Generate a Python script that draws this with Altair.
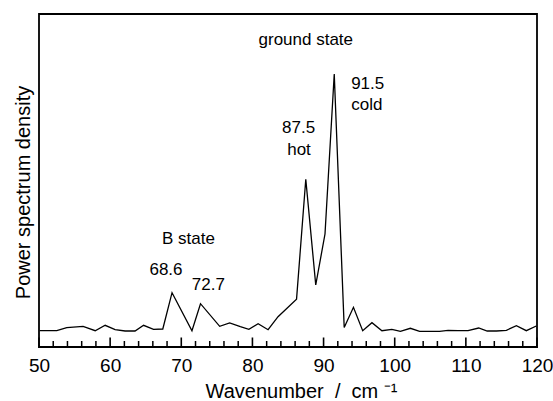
import altair as alt
import pandas as pd

# ---- data ----
wavenumber = [50.1, 52.5, 53.9, 56.2, 57.9, 59.3, 60.7, 62.1, 63.5, 64.7, 66.1, 67.4,
              68.7, 71.5, 72.7, 75.4, 76.8, 78.3, 79.5, 80.8, 82.2, 83.6, 86.2,
              87.5, 88.9, 90.2, 91.5, 92.9, 94.2, 95.5, 96.8, 98.2, 99.6, 100.8,
              102.2, 103.5, 105.0, 106.3, 107.5, 108.9, 110.3, 111.8, 113.0, 114.3,
              115.7, 117.1, 118.5, 119.9]
power = [16.3, 16.3, 19.3, 20.7, 16.3, 21.7, 17.3, 16.0, 16.0, 21.7, 17.7, 18.0,
         54.3, 16.3, 43.3, 20.7, 24.0, 20.3, 17.7, 23.3, 17.3, 30.3, 47.7,
         167.7, 62.0, 113.0, 273.0, 19.5, 39.7, 16.3, 24.3, 16.3, 17.7, 15.7,
         18.7, 15.7, 15.7, 15.7, 16.7, 16.3, 16.3, 19.0, 16.0, 16.0,
         16.7, 21.3, 16.3, 21.0]

major_ticks = [50, 60, 70, 80, 90, 100, 110, 120]
minor_ticks = [52, 54, 56, 58, 62, 64, 66, 68, 72, 74, 76, 78, 82, 84, 86, 88,
               92, 94, 96, 98, 102, 104, 106, 108, 112, 114, 116, 118]

note_text = ["ground state", "91.5", "cold", "87.5", "hot", "B state", "68.6", "72.7"]
note_x = [87.5, 96.2, 96.1, 86.5, 86.55, 71.0, 67.85, 73.8]
note_y = [302, 258, 237, 213.7, 192, 103, 72, 57]

FONT = "Liberation Sans"
NB = "\u00a0"

spec_df = pd.DataFrame({"x": wavenumber, "y": power})
major_df = pd.DataFrame({"x": major_ticks})
minor_df = pd.DataFrame({"x": minor_ticks})
note_df = pd.DataFrame({"x": note_x, "y": note_y, "t": note_text})

x_scale = alt.Scale(domain=[50, 120], nice=False, zero=False)
x_enc = alt.X(
    "x:Q",
    scale=x_scale,
    axis=alt.Axis(
        values=major_ticks, ticks=False, tickSize=0, domain=False, grid=False,
        labelFontSize=19, labelFont=FONT, labelColor="black", labelPadding=9,
        labelFlush=False,
        title=f"Wavenumber{NB}{NB}/{NB}{NB}cm{NB}\u207b\u00b9", titleFontSize=20,
        titleFont=FONT, titleFontWeight="normal", titleColor="black",
        titleX=262, titleY=50, titleAlign="center", titleBaseline="alphabetic",
    ),
)
y_scale = alt.Scale(domain=[0, 333], nice=False, zero=False)
y_enc = alt.Y(
    "y:Q",
    scale=y_scale,
    axis=alt.Axis(
        ticks=False, labels=False, domain=False, grid=False,
        title="Power spectrum density", titleFontSize=20, titleFont=FONT,
        titleFontWeight="normal", titleColor="black",
        titleAngle=270, titleX=-16, titleY=178, titleAlign="center",
        titleBaseline="middle",
    ),
)

line = alt.Chart(spec_df).mark_line(color="black", strokeWidth=1.3).encode(x=x_enc, y=y_enc)

major = alt.Chart(major_df).mark_rule(color="black", strokeWidth=1.6).encode(
    x=x_enc, y=alt.value(334), y2=alt.value(323.5)
)
minor = alt.Chart(minor_df).mark_rule(color="black", strokeWidth=1.5).encode(
    x=x_enc, y=alt.value(334), y2=alt.value(327)
)

notes = alt.Chart(note_df).mark_text(
    font=FONT, fontSize=17, color="black", align="center", baseline="alphabetic"
).encode(x=x_enc, y=y_enc, text="t:N")

chart = (
    alt.layer(line, notes, major, minor)
    .properties(
        width=498, height=333,
        autosize=alt.AutoSizeParams(type="none"),
        padding={"left": 39, "top": 14, "right": 16, "bottom": 54},
        background="white",
    )
    .configure_view(stroke="black", strokeWidth=1.8)
)

chart.save("out.html", embed_options={"renderer": "svg", "actions": False})
